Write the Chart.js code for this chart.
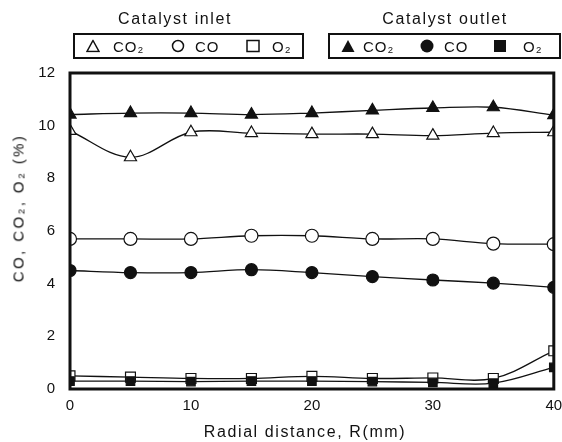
<!DOCTYPE html>
<html>
<head>
<meta charset="utf-8">
<script src="https://cdn.jsdelivr.net/npm/chart.js@4"></script>
<style>
  body { margin: 0; background: #fff; }
  #wrap { position: relative; width: 562px; height: 442px; font-family: "Liberation Sans", Arial, sans-serif; color: #111; }
  #chart { position: absolute; left: 0; top: 0; }
  .txt { position: absolute; white-space: nowrap; transform: translate(-50%, -50%); }
  .ttl { font-size: 16px; letter-spacing: 1.6px; }
  .lg { position: absolute; white-space: nowrap; font-size: 15px; letter-spacing: 1px; transform: translateY(-50%); }
  .box { position: absolute; top: 33px; height: 26px; border: 2px solid #111; box-sizing: border-box; }
  .mk { position: absolute; transform: translate(-50%, -50%); }
  #ytitle { position: absolute; left: 18px; top: 208px; font-size: 15px; letter-spacing: 2.4px; white-space: nowrap;
            font-weight: normal; transform: translate(-50%, -50%) rotate(-90deg); }
  #xtitle { font-size: 16px; letter-spacing: 1.6px; }
</style>
</head>
<body>
<div id="wrap">
  <canvas id="chart" width="562" height="442"></canvas>
  <div class="txt ttl" style="left:175px;top:19px;">Catalyst inlet</div>
  <div class="txt ttl" style="left:445px;top:19px;">Catalyst outlet</div>
  <div class="box" style="left:73px;width:231px;"></div>
  <div class="box" style="left:328px;width:233px;"></div>

  <svg class="mk" style="left:93px;top:46px" width="14" height="13"><polygon points="7,1 13,12 1,12" fill="#fff" stroke="#111" stroke-width="1.5"/></svg>
  <span class="lg" style="left:113px;top:46px">CO₂</span>
  <svg class="mk" style="left:178px;top:46px" width="14" height="14"><circle cx="7" cy="7" r="5.5" fill="#fff" stroke="#111" stroke-width="1.5"/></svg>
  <span class="lg" style="left:195px;top:46px">CO</span>
  <svg class="mk" style="left:253px;top:46px" width="14" height="14"><rect x="1" y="1.5" width="12" height="11" fill="#fff" stroke="#111" stroke-width="1.5"/></svg>
  <span class="lg" style="left:272px;top:46px">O₂</span>

  <svg class="mk" style="left:348px;top:46px" width="15" height="14"><polygon points="7.5,1 14,13 1,13" fill="#111"/></svg>
  <span class="lg" style="left:363px;top:46px">CO₂</span>
  <svg class="mk" style="left:427px;top:46px" width="15" height="15"><circle cx="7.5" cy="7.5" r="6.5" fill="#111"/></svg>
  <span class="lg" style="left:444px;top:46px">CO</span>
  <svg class="mk" style="left:500px;top:46px" width="14" height="14"><rect x="1" y="1" width="12" height="12" fill="#111"/></svg>
  <span class="lg" style="left:523px;top:46px">O₂</span>

  <div id="ytitle">CO, CO₂, O₂ (%)</div>
  <div id="xtitle" class="txt" style="left:305px;top:432px;">Radial distance, R(mm)</div>
</div>
<script>
const radial = [0, 5, 10, 15, 20, 25, 30, 35, 40];
const inletCO2 = [9.8, 8.8, 9.75, 9.72, 9.68, 9.68, 9.62, 9.72, 9.75];
const inletCO = [5.7, 5.7, 5.7, 5.82, 5.82, 5.7, 5.7, 5.52, 5.5];
const inletO2 = [0.5, 0.45, 0.4, 0.4, 0.48, 0.4, 0.42, 0.4, 1.45];
const outletCO2 = [10.42, 10.48, 10.48, 10.42, 10.48, 10.58, 10.67, 10.7, 10.4];
const outletCO = [4.5, 4.42, 4.42, 4.53, 4.42, 4.27, 4.14, 4.02, 3.86];
const outletO2 = [0.3, 0.3, 0.28, 0.3, 0.3, 0.28, 0.25, 0.22, 0.82];
const xTicks = [0, 10, 20, 30, 40];
const yTicks = [0, 2, 4, 6, 8, 10, 12];

function pts(arr) { return radial.map((x, i) => ({ x, y: arr[i] })); }

function series(data, shape, filled, r) {
  return {
    data: pts(data),
    borderColor: '#111',
    borderWidth: 1.3,
    pointStyle: shape,
    pointRadius: r,
    pointBorderWidth: 1.2,
    pointBorderColor: '#111',
    pointBackgroundColor: filled ? '#111' : '#fff',
    tension: 0.35,
    fill: false
  };
}

// thick box round the plot
const frame = {
  id: 'frame',
  afterDatasetsDraw(chart) {
    const a = chart.chartArea, ctx = chart.ctx;
    ctx.save();
    ctx.strokeStyle = '#111';
    ctx.lineWidth = 3;
    ctx.strokeRect(a.left, a.top, a.right - a.left, a.bottom - a.top);
    ctx.restore();
  }
};

new Chart(document.getElementById('chart'), {
  type: 'line',
  data: {
    datasets: [
      series(outletO2, 'rect', true, 6),
      series(inletO2, 'rect', false, 7),
      series(outletCO, 'circle', true, 6),
      series(inletCO, 'circle', false, 6.5),
      series(outletCO2, 'triangle', true, 7),
      series(inletCO2, 'triangle', false, 7)
    ]
  },
  options: {
    responsive: false,
    animation: false,
    layout: { padding: { top: 73, right: 5, left: 0, bottom: 0 } },
    plugins: { legend: { display: false }, tooltip: { enabled: false } },
    scales: {
      x: {
        type: 'linear', min: 0, max: 40,
        afterBuildTicks: s => { s.ticks = xTicks.map(v => ({ value: v })); },
        afterFit: s => { s.height = 53; s.paddingRight = 0; s.paddingLeft = 0; },
        grid: { display: false, drawTicks: false },
        border: { display: false },
        ticks: { color: '#111', font: { size: 15, family: 'Liberation Sans' }, padding: 8 }
      },
      y: {
        min: 0, max: 12,
        afterBuildTicks: s => { s.ticks = yTicks.map(v => ({ value: v })); },
        afterFit: s => { s.width = 70; },
        grid: { display: false, drawTicks: false },
        border: { display: false },
        ticks: { color: '#111', font: { size: 15, family: 'Liberation Sans' }, padding: 15 }
      }
    }
  },
  plugins: [frame]
});
</script>
</body>
</html>
